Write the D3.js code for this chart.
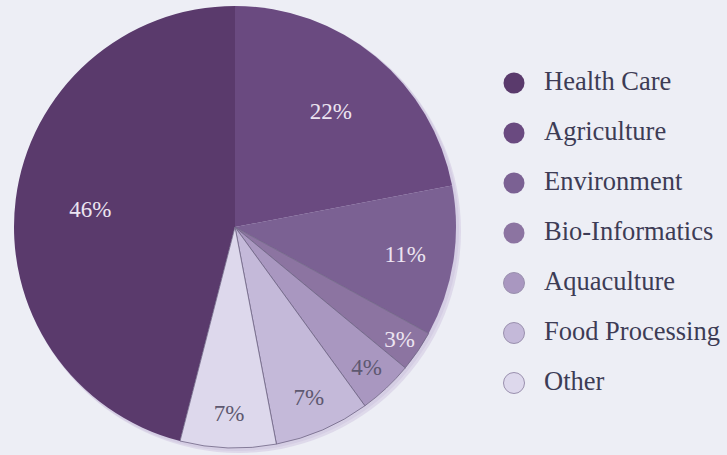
<!DOCTYPE html>
<html><head><meta charset="utf-8">
<script src="https://cdn.jsdelivr.net/npm/d3@7"></script>
<style>html,body{margin:0;padding:0;background:#edeef5;}svg{display:block;}
.serif{font-family:"Liberation Serif","DejaVu Serif","Noto Serif","Times New Roman",serif;}</style>
</head><body>
<svg id="chart" width="727" height="455"></svg>
<script>
const categories = ["Health Care","Agriculture","Environment","Bio-Informatics","Aquaculture","Food Processing","Other"];
const values = [46,22,11,3,4,7,7];
const labels = ["46%","22%","11%","3%","4%","7%","7%"];
const colors = ["#5a3a6c","#6a4a80","#7b6193","#8c74a1","#a997c0","#c4b9d9","#ddd8ec"];
const labelColors = ["#ece4f1","#ece4f1","#ece4f1","#ece4f1","#5e5870","#5e5870","#5e5870"];
const labelRadiusFrac = [0.66,0.68,0.78,0.9,0.87,0.84,0.84];

const svg = d3.select("#chart");
const W = 727, H = 455;
svg.append("rect").attr("width",W).attr("height",H).attr("fill","#edeef5");

const cx = 235, cy = 227, r = 221;
const data = categories.map((c,i)=>({cat:c, value:values[i], label:labels[i], i}));

const start = -values[0]/d3.sum(values)*2*Math.PI;
const pie = d3.pie().value(d=>d.value).sort(null).startAngle(start).endAngle(start+2*Math.PI);
const arcs = pie(data);
const arc = d3.arc().innerRadius(0).outerRadius(r);

const g = svg.append("g").attr("transform",`translate(${cx},${cy})`);
g.append("circle").attr("cx",4).attr("cy",4).attr("r",r+1).attr("fill","#d9d3e7").attr("opacity",0.8);
g.append("circle").attr("cx",2).attr("cy",2).attr("r",r+1).attr("fill","#cfc7e0").attr("opacity",0.6);

g.selectAll("path.slice").data(arcs).enter().append("path")
  .attr("class","slice")
  .attr("d",arc)
  .attr("fill",d=>colors[d.data.i])
  .attr("stroke",d=>d.data.i>=3?"#6f6584":"none")
  .attr("stroke-width",0.8);

g.selectAll("text.lbl").data(arcs).enter().append("text")
  .attr("class","lbl serif")
  .attr("transform",d=>{
    const a=(d.startAngle+d.endAngle)/2, rr=r*labelRadiusFrac[d.data.i];
    return `translate(${rr*Math.sin(a)},${-rr*Math.cos(a)})`;
  })
  .attr("text-anchor","middle")
  .attr("dy","0.35em")
  .style("font-size","23px")
  .attr("fill",d=>labelColors[d.data.i])
  .text(d=>d.data.label);

const ly = d3.scaleBand().domain(categories).range([65,415]);
const leg = svg.append("g");
const items = leg.selectAll("g").data(data).enter().append("g")
  .attr("transform",d=>`translate(0,${ly(d.cat)+ly.bandwidth()/2})`);
items.append("circle").attr("cx",514).attr("cy",-7).attr("r",10.5)
  .attr("fill",d=>colors[d.i])
  .attr("stroke",d=>d.i>=4?"#9a90ae":"none").attr("stroke-width",1);
items.append("text").attr("class","serif").attr("x",544).attr("y",0)
  .style("font-size","26.5px")
  .attr("fill","#3d3c55")
  .text(d=>d.cat);
</script>
</body></html>
